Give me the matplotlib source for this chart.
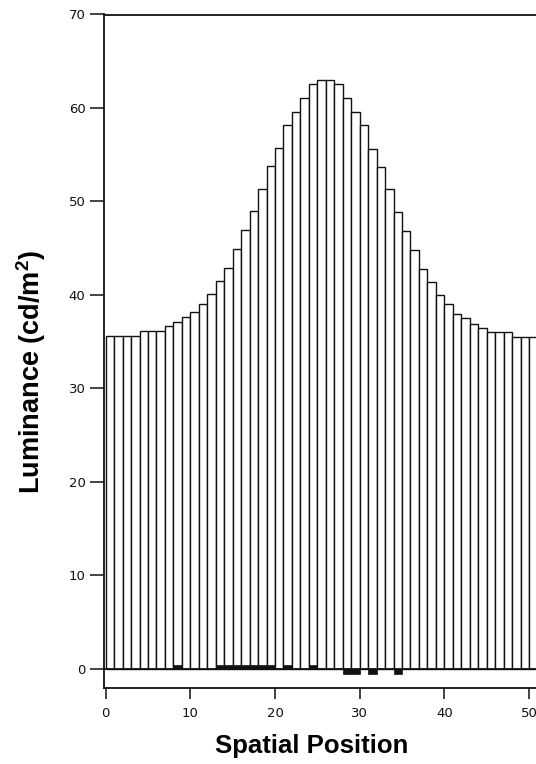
import matplotlib
matplotlib.use("Agg")
import matplotlib.pyplot as plt
import numpy as np

# ---- data ----
positions = list(range(51))
luminance = [35.6, 35.6, 35.6, 35.6, 36.1, 36.1, 36.1, 36.65, 37.1, 37.6,
             38.15, 39.0, 40.1, 41.5, 42.9, 44.9, 46.9, 49.0, 51.3, 53.8,
             55.7, 58.2, 59.6, 61.1, 62.6, 63.0, 63.0, 62.6, 61.1, 59.6,
             58.2, 55.6, 53.7, 51.3, 48.9, 46.8, 44.8, 42.8, 41.4, 40.0,
             39.0, 38.0, 37.5, 36.9, 36.5, 36.0, 36.0, 36.0, 35.5, 35.5, 35.5]
difference = [0, 0, 0, 0, 0, 0, 0, 0, 0.45, 0,
              0, 0, 0, 0.45, 0.45, 0.45, 0.45, 0.45, 0.45, 0.45,
              0, 0.45, 0, 0, 0.45, 0, 0, 0, -0.55, -0.55,
              0, -0.55, 0, 0, -0.55, 0, 0, 0, 0, 0,
              0, 0, 0, 0, 0, 0, 0, 0, 0, 0, 0]
xticks = [0, 10, 20, 30, 40, 50]
yticks = [0, 10, 20, 30, 40, 50, 60, 70]

plt.rcParams['mathtext.fontset'] = 'custom'
plt.rcParams['mathtext.rm'] = 'Liberation Sans:bold'
plt.rcParams['mathtext.bf'] = 'Liberation Sans:bold'

fig = plt.figure(figsize=(5.36, 7.64), dpi=100)
ax = fig.add_axes([103.5 / 536, 76 / 764, 1 - 103.5 / 536, (688 - 14.5) / 764])

ax.bar(positions, luminance, width=1.0, align='edge', color='white',
       edgecolor='#111111', linewidth=1.0, zorder=2)
ax.bar(positions, difference, width=1.0, align='edge', color='#111111',
       edgecolor='#111111', linewidth=0.5, zorder=3)
ax.axhline(0, color='#111111', linewidth=1.3, zorder=4)

ax.set_xlim(-0.26, 50.83)
ax.set_ylim(-2.05, 70)
ax.set_xticks(xticks)
ax.set_yticks(yticks)
ax.tick_params(axis='both', direction='out', length=8, width=1.1,
               color='#111111', labelsize=9.5, labelcolor='#111111')
ax.tick_params(axis='y', length=10, pad=3)
ax.tick_params(axis='x', pad=6)
for s in ['left', 'bottom', 'top']:
    ax.spines[s].set_linewidth(1.3)
    ax.spines[s].set_color('#111111')
ax.spines['right'].set_visible(False)

fig.text(312 / 536, 1 - 746 / 764, 'Spatial Position', ha='center', va='center',
         fontsize=18.5, fontweight='bold', family='Liberation Sans')
fig.text(31 / 536, 1 - 372 / 764, r'Luminance (cd/m$^{2}$)', ha='center', va='center',
         rotation=90, fontsize=19.5, fontweight='bold', family='Liberation Sans')

fig.savefig('out.png', dpi=100)
